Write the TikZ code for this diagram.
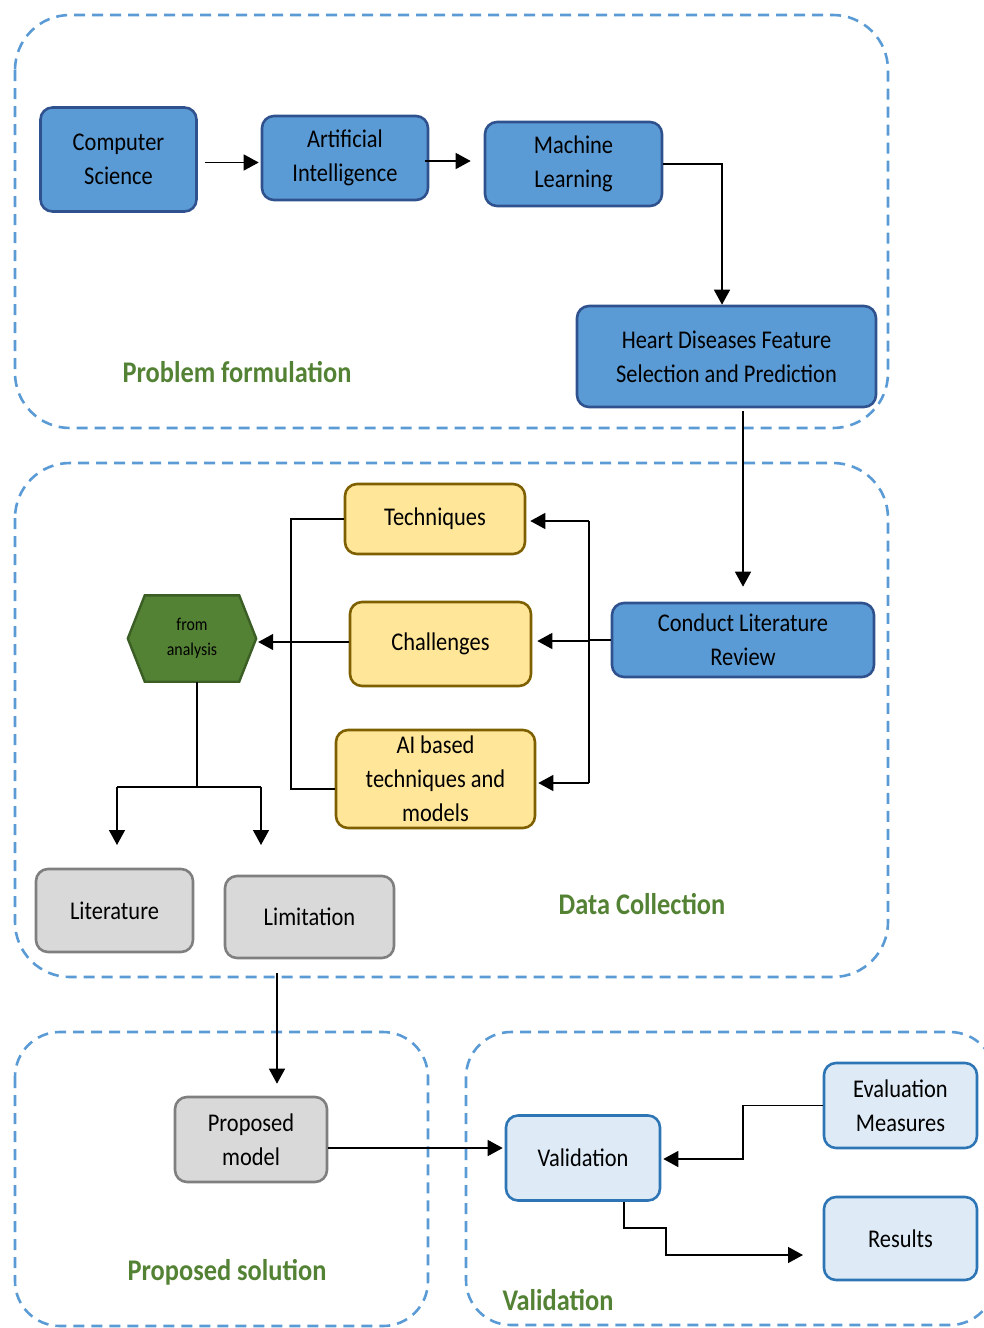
\documentclass[tikz,border=0pt]{standalone}
\usepackage{fontspec}
\setmainfont{Carlito}[FakeStretch=0.88]
\usetikzlibrary{arrows.meta,calc}

\definecolor{zoneline}{HTML}{5B9BD5}
\definecolor{mainfill}{HTML}{5B9BD5}
\definecolor{mainline}{HTML}{2F528F}
\definecolor{topicfill}{HTML}{FFE699}
\definecolor{topicline}{HTML}{7F6000}
\definecolor{hexfill}{HTML}{548235}
\definecolor{hexline}{HTML}{3B5E25}
\definecolor{greyfill}{HTML}{D9D9D9}
\definecolor{greyline}{HTML}{7F7F7F}
\definecolor{palefill}{HTML}{DEEBF7}
\definecolor{paleline}{HTML}{2E75B6}
\definecolor{zonetext}{HTML}{548235}

\tikzset{
  zone/.style={draw=zoneline, line width=2.6pt, dash pattern=on 11pt off 7pt},
  box/.style={rectangle, rounded corners=12pt, line width=2.6pt, inner sep=0pt,
              align=center, font=\fontsize{25.5}{34}\selectfont},
  mainbox/.style={box, fill=mainfill, draw=mainline},
  topicbox/.style={box, fill=topicfill, draw=topicline},
  greybox/.style={box, fill=greyfill, draw=greyline},
  palebox/.style={box, fill=palefill, draw=paleline},
  zonelabel/.style={text=zonetext, font=\fontsize{30}{36}\selectfont\bfseries},
  conn/.style={draw=black, line width=1.4pt},
  arr/.style={conn, -{Triangle[length=15pt,width=16pt]}},
}

\begin{document}
\begin{tikzpicture}[x=1pt,y=-1pt]
\useasboundingbox (0,0) rectangle (984,1328);

% dashed zones
\draw[zone, rounded corners=55pt] (15,15) rectangle (888,428);
\draw[zone, rounded corners=55pt] (15,463) rectangle (888,977);
\draw[zone, rounded corners=45pt] (15,1032) rectangle (428,1326);
\draw[zone, rounded corners=45pt] (466,1032) rectangle (995,1325);

% zone titles
\node[zonelabel] (lblprob) at (237,372) {Problem formulation};
\node[zonelabel] (lbldata) at (642,904) {Data Collection};
\node[zonelabel] (lblprop) at (227,1272) {Proposed solution};
\node[zonelabel] (lblval)  at (558,1300) {Validation};

% problem formulation
\node[mainbox, minimum width=156pt, minimum height=104pt] (cs) at (118.5,159.5) {Computer\\Science};
\node[mainbox, minimum width=166pt, minimum height=84pt] (ai) at (345,158) {Artificial\\Intelligence};
\node[mainbox, minimum width=177pt, minimum height=84pt] (ml) at (573.5,164) {Machine\\Learning};
\node[mainbox, minimum width=299pt, minimum height=101pt] (hd) at (726.5,356.5) {Heart Diseases Feature\\Selection and Prediction};

% data collection
\node[mainbox, minimum width=262pt, minimum height=74pt] (clr) at (743,640) {Conduct Literature\\Review};
\node[topicbox, minimum width=180pt, minimum height=70pt] (tech) at (435,519) {Techniques};
\node[topicbox, minimum width=181pt, minimum height=84pt] (chal) at (440.5,644) {Challenges};
\node[topicbox, minimum width=199pt, minimum height=98pt] (aib) at (435.5,779) {AI based\\techniques and\\models};

% hexagon
\node[minimum width=128pt, minimum height=86pt, inner sep=0pt] (hex) at (192,638.5) {};
\draw[fill=hexfill, draw=hexline, line width=2.4pt]
  ($(hex.north west)+(17,0)$) -- ($(hex.north east)+(-17,0)$) -- (hex.east)
  -- ($(hex.south east)+(-17,0)$) -- ($(hex.south west)+(17,0)$) -- (hex.west) -- cycle;
\node[align=center, font=\fontsize{18}{25}\selectfont, inner sep=0pt] (hextext) at (hex.center) {from\\analysis};

\node[greybox, minimum width=157pt, minimum height=83pt] (lit) at (114.5,910.5) {Literature};
\node[greybox, minimum width=169pt, minimum height=82pt] (lim) at (309.5,917) {Limitation};

% proposed solution
\node[greybox, minimum width=152pt, minimum height=85pt] (pm) at (251,1139.5) {Proposed\\model};

% validation
\node[palebox, minimum width=154pt, minimum height=85pt] (val) at (583,1158) {Validation};
\node[palebox, minimum width=153pt, minimum height=85pt] (ev) at (900.5,1105.5) {Evaluation\\Measures};
\node[palebox, minimum width=153pt, minimum height=83pt] (res) at (900.5,1238.5) {Results};

% connectors: problem formulation
\draw[arr, shorten <=7pt, shorten >=2pt] ($(cs.east)+(0,3)$) -- ($(cs.east -| ai.west)+(0,3)$);
\draw[arr, shorten <=-4pt, shorten >=13pt] ($(ai.east)+(0,3)$) -- ($(ai.east -| ml.west)+(0,3)$);
\draw[arr] (ml.east) -| ($(hd.north)+(-4.5,0)$);
\draw[arr, shorten <=3pt, shorten >=15pt] (hd.south -| clr.north) -- (clr.north);

% connectors: data collection
\coordinate (busR) at (589,641);
\coordinate (busL) at (291,640);
\draw[conn] (clr.west) -- (clr.west -| busR);
\draw[conn] ($(busR |- tech.east)+(0,2)$) -- ($(busR |- aib.east)+(0,4)$);
\draw[arr, shorten >=4pt] ($(busR |- tech.east)+(0,2)$) -- ($(tech.east)+(0,2)$);
\draw[arr, shorten >=5pt] (busR) -- (busR -| chal.east);
\draw[arr, shorten >=2pt] ($(busR |- aib.east)+(0,4)$) -- ($(aib.east)+(0,4)$);
\draw[conn] (tech.west) -| (busL) |- ($(aib.west)+(0,10)$);
\draw[arr, shorten >=2pt] ($(chal.west)+(0,-2)$) -- ($(chal.west -| hex.east)+(0,-2)$);

\coordinate (fork) at (197,787);
\coordinate (forkL) at (117,787);
\coordinate (forkR) at (261,787);
\coordinate (litIn) at (117,845);
\coordinate (limIn) at (261,845);
\draw[conn] ($(hex.south)+(5,0)$) -- (fork);
\draw[conn] (forkL) -- (forkR);
\draw[arr] (forkL) -- (litIn);
\draw[arr] (forkR) -- (limIn);

% connectors: towards the proposed model and validation
\draw[arr, shorten <=14pt, shorten >=12pt] ($(lim.south)+(-32.5,0)$) -- ($(lim.south |- pm.north)+(-32.5,0)$);
\draw[arr, shorten >=2pt] ($(pm.east)+(0,8.5)$) -- ($(pm.east -| val.west)+(0,8.5)$);

\coordinate (evBend) at (743,1159);
\draw[arr, shorten >=2pt] (ev.west) -| (evBend) -- (evBend -| val.east);

\coordinate (stepA) at (624,1228);
\coordinate (stepB) at (666,1228);
\coordinate (stepC) at (666,1255);
\coordinate (resIn) at (803,1255);
\draw[arr] (stepA |- val.south) -- (stepA) -- (stepB) -- (stepC) -- (resIn);
\end{tikzpicture}
\end{document}
